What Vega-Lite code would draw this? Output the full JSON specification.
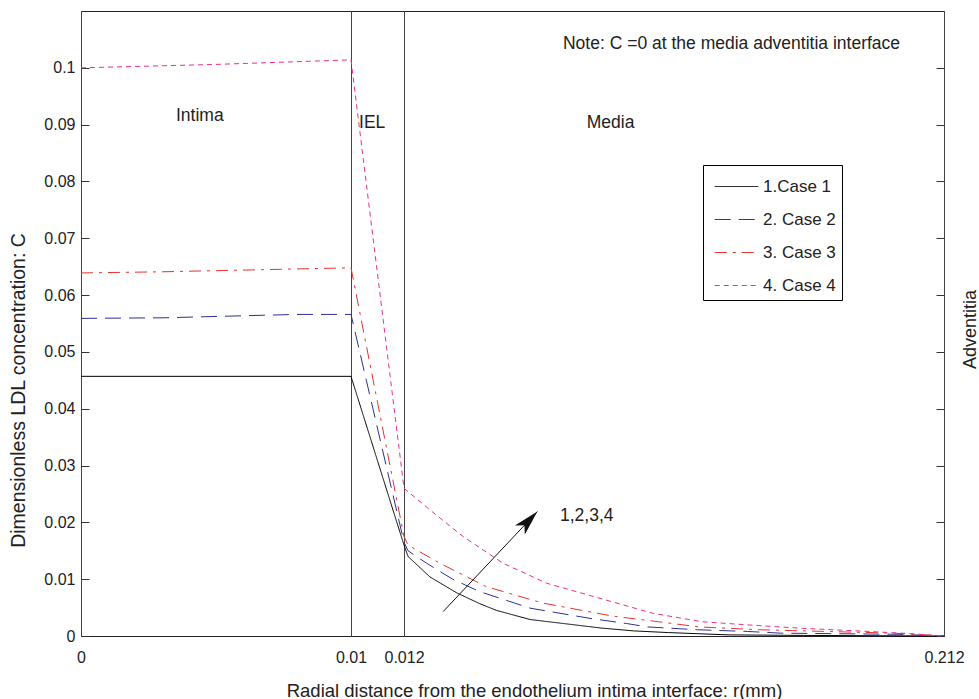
{
  "$schema": "https://vega.github.io/schema/vega-lite/v6.json",
  "autosize": {"type": "none"},
  "padding": {"left": 81, "top": 11, "right": 35, "bottom": 63},
  "width": 863,
  "height": 625,
  "background": "white",
  "config": {
    "font": "Liberation Sans",
    "view": {"stroke": "#222", "strokeWidth": 1},
    "axis": {"labelFont": "Liberation Sans", "titleFont": "Liberation Sans", "labelColor": "#222", "titleColor": "#222", "titleFontWeight": "normal"}
  },
  "datasets": {
    "curves": [
      {"case": "1.Case 1", "r": 0, "c": 0.0457},
      {"case": "1.Case 1", "r": 0.01, "c": 0.0457},
      {"case": "1.Case 1", "r": 0.012, "c": 0.0160},
      {"case": "1.Case 1", "r": 0.0135, "c": 0.0140},
      {"case": "1.Case 1", "r": 0.0216, "c": 0.0104},
      {"case": "1.Case 1", "r": 0.0315, "c": 0.0076},
      {"case": "1.Case 1", "r": 0.040, "c": 0.0057},
      {"case": "1.Case 1", "r": 0.0463, "c": 0.0045},
      {"case": "1.Case 1", "r": 0.0587, "c": 0.0029},
      {"case": "1.Case 1", "r": 0.071, "c": 0.0022},
      {"case": "1.Case 1", "r": 0.085, "c": 0.0014},
      {"case": "1.Case 1", "r": 0.097, "c": 0.0009},
      {"case": "1.Case 1", "r": 0.11, "c": 0.0006},
      {"case": "1.Case 1", "r": 0.132, "c": 0.0002},
      {"case": "1.Case 1", "r": 0.16, "c": 0.0001},
      {"case": "1.Case 1", "r": 0.212, "c": 0},
      {"case": "2. Case 2", "r": 0, "c": 0.0559},
      {"case": "2. Case 2", "r": 0.003, "c": 0.0560},
      {"case": "2. Case 2", "r": 0.008, "c": 0.0566},
      {"case": "2. Case 2", "r": 0.01, "c": 0.0566},
      {"case": "2. Case 2", "r": 0.012, "c": 0.0165},
      {"case": "2. Case 2", "r": 0.0135, "c": 0.0150},
      {"case": "2. Case 2", "r": 0.0204, "c": 0.0128},
      {"case": "2. Case 2", "r": 0.030, "c": 0.0100},
      {"case": "2. Case 2", "r": 0.0401, "c": 0.0078},
      {"case": "2. Case 2", "r": 0.0587, "c": 0.0049},
      {"case": "2. Case 2", "r": 0.0809, "c": 0.0031},
      {"case": "2. Case 2", "r": 0.0944, "c": 0.0022},
      {"case": "2. Case 2", "r": 0.1021, "c": 0.0016},
      {"case": "2. Case 2", "r": 0.1207, "c": 0.0011},
      {"case": "2. Case 2", "r": 0.1393, "c": 0.0008},
      {"case": "2. Case 2", "r": 0.1516, "c": 0.0005},
      {"case": "2. Case 2", "r": 0.195, "c": 0.0003},
      {"case": "2. Case 2", "r": 0.212, "c": 0},
      {"case": "3. Case 3", "r": 0, "c": 0.0639},
      {"case": "3. Case 3", "r": 0.003, "c": 0.0641},
      {"case": "3. Case 3", "r": 0.01, "c": 0.0648},
      {"case": "3. Case 3", "r": 0.012, "c": 0.0175},
      {"case": "3. Case 3", "r": 0.0135, "c": 0.0160},
      {"case": "3. Case 3", "r": 0.0253, "c": 0.0128},
      {"case": "3. Case 3", "r": 0.0424, "c": 0.0087},
      {"case": "3. Case 3", "r": 0.0633, "c": 0.0058},
      {"case": "3. Case 3", "r": 0.0893, "c": 0.0035},
      {"case": "3. Case 3", "r": 0.1064, "c": 0.0025},
      {"case": "3. Case 3", "r": 0.1213, "c": 0.0016},
      {"case": "3. Case 3", "r": 0.1435, "c": 0.0011},
      {"case": "3. Case 3", "r": 0.1684, "c": 0.0008},
      {"case": "3. Case 3", "r": 0.1933, "c": 0.0005},
      {"case": "3. Case 3", "r": 0.212, "c": 0},
      {"case": "4. Case 4", "r": 0, "c": 0.1000},
      {"case": "4. Case 4", "r": 0.005, "c": 0.1006},
      {"case": "4. Case 4", "r": 0.01, "c": 0.1014},
      {"case": "4. Case 4", "r": 0.012, "c": 0.0260},
      {"case": "4. Case 4", "r": 0.0216, "c": 0.0222},
      {"case": "4. Case 4", "r": 0.0339, "c": 0.0175},
      {"case": "4. Case 4", "r": 0.0487, "c": 0.0128},
      {"case": "4. Case 4", "r": 0.0648, "c": 0.0093},
      {"case": "4. Case 4", "r": 0.0833, "c": 0.0068},
      {"case": "4. Case 4", "r": 0.093, "c": 0.0055},
      {"case": "4. Case 4", "r": 0.1041, "c": 0.0040},
      {"case": "4. Case 4", "r": 0.1226, "c": 0.0025},
      {"case": "4. Case 4", "r": 0.1411, "c": 0.0019},
      {"case": "4. Case 4", "r": 0.1596, "c": 0.00135},
      {"case": "4. Case 4", "r": 0.1843, "c": 0.0008},
      {"case": "4. Case 4", "r": 0.2, "c": 0.0004},
      {"case": "4. Case 4", "r": 0.212, "c": 0}
    ],
    "labels": [
      {"r": 0.0044, "c": 0.0915, "text": "Intima"},
      {"r": 0.0108, "c": 0.0903, "text": "IEL"},
      {"r": 0.0885, "c": 0.0903, "text": "Media"},
      {"r": 0.1333, "c": 0.1042, "text": "Note: C =0 at the media adventitia interface"},
      {"r": 0.0797, "c": 0.0211, "text": "1,2,3,4"}
    ],
    "arrow": [
      {"r": 0.0265, "c": 0.0043, "r2": 0.0614, "c2": 0.0219}
    ]
  },
  "layer": [
    {
      "data": {"name": "curves"},
      "mark": {"type": "line", "strokeWidth": 1},
      "encoding": {
        "x": {
          "field": "r", "type": "quantitative",
          "scale": {"domain": [0, 0.01, 0.012, 0.212], "range": [0, 270, 323, 863], "zero": false, "nice": false},
          "axis": {
            "values": [0, 0.01, 0.012, 0.212], "labelExpr": "'' + datum.value", "labelFlush": false, "labelOverlap": false,
            "title": "Radial distance from the endothelium intima interface: r(mm)",
            "titleFontSize": 18.5, "titleX": 453, "titleY": 54, "titleBaseline": "middle", "titleAlign": "center",
            "labelFontSize": 16, "labelPadding": 13, "ticks": false, "domain": false,
            "grid": true, "gridColor": "#444", "gridWidth": 1, "gridOpacity": 1
          }
        },
        "y": {
          "field": "c", "type": "quantitative",
          "scale": {"domain": [0, 0.11], "zero": true, "nice": false},
          "axis": {
            "values": [0, 0.01, 0.02, 0.03, 0.04, 0.05, 0.06, 0.07, 0.08, 0.09, 0.1], "format": "~g",
            "title": "Dimensionless LDL concentration: C",
            "titleFontSize": 19.5, "titleX": -63, "titleY": 379, "titleAngle": 270, "titleBaseline": "middle", "titleAlign": "center",
            "labelFontSize": 16, "tickSize": -8, "labelPadding": 14, "tickColor": "#333", "domain": false, "grid": false
          }
        },
        "color": {
          "field": "case", "type": "nominal",
          "scale": {"domain": ["1.Case 1", "2. Case 2", "3. Case 3", "4. Case 4"], "range": ["#000000", "#2e3192", "#e8322f", "#ec2f8f"]},
          "legend": {
            "title": null, "orient": "none", "legendX": 622, "legendY": 154,
            "strokeColor": "#000", "fillColor": "white", "padding": 6,
            "symbolType": "M-1.45,0 H1.45", "symbolSize": 900, "symbolStrokeWidth": 1, "symbolOffset": 12,
            "labelFontSize": 17, "labelColor": "#222", "labelOffset": 11, "rowPadding": 9
          }
        },
        "strokeDash": {
          "field": "case", "type": "nominal",
          "scale": {"domain": ["1.Case 1", "2. Case 2", "3. Case 3", "4. Case 4"], "range": [[1, 0], [16, 8], [12, 6, 3, 6], [5, 4]]},
          "legend": {
            "title": null, "orient": "none", "legendX": 622, "legendY": 154,
            "strokeColor": "#000", "fillColor": "white", "padding": 6,
            "symbolType": "M-1.45,0 H1.45", "symbolSize": 900, "symbolStrokeWidth": 1, "symbolOffset": 12,
            "labelFontSize": 17, "labelColor": "#222", "labelOffset": 11, "rowPadding": 9
          }
        }
      }
    },
    {
      "data": {"name": "curves"},
      "mark": {"type": "point", "opacity": 0},
      "encoding": {
        "x": {"field": "r", "type": "quantitative"},
        "y": {
          "field": "c", "type": "quantitative",
          "axis": {
            "orient": "right", "values": [0, 0.01, 0.02, 0.03, 0.04, 0.05, 0.06, 0.07, 0.08, 0.09, 0.1],
            "labels": false, "tickSize": -8, "tickColor": "#333", "domain": false, "grid": false,
            "title": "Adventitia", "titleFontSize": 18, "titleAngle": 270, "titleX": 26, "titleY": 318,
            "titleBaseline": "middle", "titleAlign": "center"
          }
        }
      }
    },
    {
      "data": {"name": "labels"},
      "mark": {"type": "text", "fontSize": 17.5, "color": "#222", "align": "center", "baseline": "middle"},
      "encoding": {
        "x": {"field": "r", "type": "quantitative"},
        "y": {"field": "c", "type": "quantitative", "axis": null},
        "text": {"field": "text"}
      }
    },
    {
      "data": {"name": "arrow"},
      "mark": {"type": "rule", "color": "#111", "strokeWidth": 1},
      "encoding": {
        "x": {"field": "r", "type": "quantitative"},
        "y": {"field": "c", "type": "quantitative", "axis": null},
        "x2": {"field": "r2"},
        "y2": {"field": "c2"}
      }
    },
    {
      "data": {"name": "arrow"},
      "mark": {"type": "point", "shape": "M0,0 L-0.45,1.7 L0,1.25 L0.45,1.7 Z", "filled": true, "color": "#111", "size": 900, "angle": 43.4, "opacity": 1},
      "encoding": {
        "x": {"field": "r2", "type": "quantitative"},
        "y": {"field": "c2", "type": "quantitative", "axis": null}
      }
    }
  ],
  "resolve": {"scale": {"y": "shared"}, "axis": {"y": "independent"}}
}
